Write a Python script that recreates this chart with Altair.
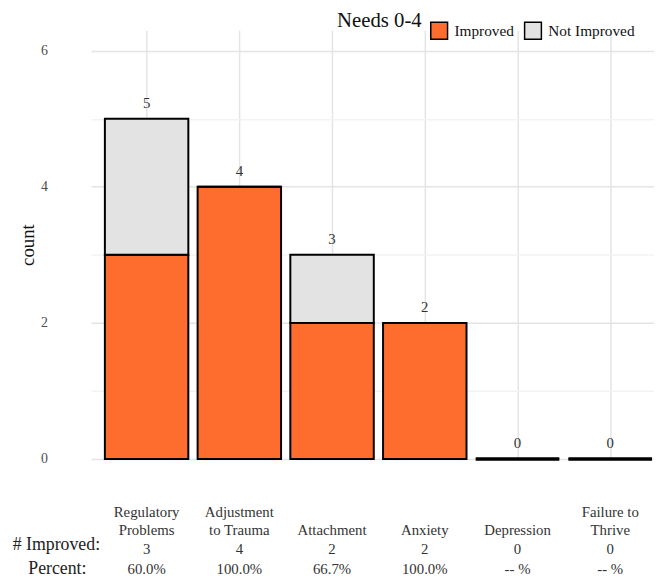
import altair as alt
import pandas as pd

# ---- data ----
categories = ["Regulatory Problems", "Adjustment to Trauma", "Attachment",
              "Anxiety", "Depression", "Failure to Thrive"]
label_top = ["Regulatory", "Adjustment", "", "", "", "Failure to"]
label_bottom = ["Problems", "to Trauma", "Attachment", "Anxiety", "Depression", "Thrive"]
improved = [3, 4, 2, 2, 0, 0]
not_improved = [2, 0, 1, 0, 0, 0]
percent_labels = ["60.0%", "100.0%", "66.7%", "100.0%", "-- %", "-- %"]
status = ["Improved", "Not Improved"]
colors = ["#FF6D2E", "#E3E3E3"]
y_ticks = [0, 1, 2, 3, 4, 5, 6]
x_ticks = [1, 2, 3, 4, 5, 6]
chart_title = "Needs 0-4"
row_titles = ["# Improved:", "Percent:"]

FONT = "Liberation Serif"

rows = []
for i, cat in enumerate(categories):
    tot = improved[i] + not_improved[i]
    rows.append({"cat": cat, "idx": i + 1, "status": status[0],
                 "y0": 0, "y1": improved[i], "total": tot})
    rows.append({"cat": cat, "idx": i + 1, "status": status[1],
                 "y0": improved[i], "y1": improved[i] + not_improved[i], "total": tot})
bars_df = pd.DataFrame(rows)

lab_df = pd.DataFrame({
    "cat": categories,
    "idx": list(range(1, len(categories) + 1)),
    "top": label_top,
    "bottom": label_bottom,
    "total": [a + b for a, b in zip(improved, not_improved)],
    "imp": [str(v) for v in improved],
    "pct": percent_labels,
})

xscale = alt.Scale(domain=[0.4, 6.472], nice=False, zero=False)
yscale = alt.Scale(domain=[0, 6.3], nice=False)

xaxis = alt.Axis(values=x_ticks, grid=True, labels=False, ticks=False,
                 domain=False, title=None, gridColor="#e4e4e4", gridWidth=1.5)
yaxis = alt.Axis(values=y_ticks, title="count", grid=True, ticks=False, domain=False,
                 labelExpr="datum.value % 2 == 0 ? datum.label : ''",
                 gridColor={"condition": {"test": "datum.value % 2 == 1", "value": "#f3f3f3"},
                            "value": "#e4e4e4"},
                 gridWidth=1.5,
                 labelPadding=44, labelFontSize=14, labelColor="#4d4d4d",
                 labelFont=FONT, titleFont=FONT, titleFontSize=19,
                 titleFontWeight="normal", titleColor="#111", titlePadding=3)

bars = alt.Chart(bars_df).transform_calculate(
    lo="datum.idx - 0.45", hi="datum.idx + 0.45"
).mark_bar(stroke="black").encode(
    x=alt.X("lo:Q", scale=xscale, axis=xaxis),
    x2="hi:Q",
    y=alt.Y("y1:Q", scale=yscale, axis=yaxis),
    y2="y0:Q",
    fill=alt.Fill("status:N", scale=alt.Scale(domain=status, range=colors),
                  legend=alt.Legend(title=None, orient="none", legendX=343, legendY=-9,
                                    direction="horizontal", symbolType="square",
                                    symbolSize=289, symbolStrokeColor="black",
                                    symbolStrokeWidth=1.5, labelFont=FONT,
                                    labelFontSize=15.5, labelColor="#111",
                                    labelOffset=6, columnPadding=7, padding=0)),
    strokeWidth=alt.condition("datum.total == 0", alt.value(3), alt.value(2)),
)

values = alt.Chart(lab_df).mark_text(dy=-16, fontSize=15, font=FONT, color="#333",
                                      baseline="middle").encode(
    x=alt.X("idx:Q", scale=xscale, axis=xaxis),
    y=alt.Y("total:Q", scale=yscale, axis=yaxis),
    text="total:Q",
)


def row(field, ypix):
    return alt.Chart(lab_df).mark_text(baseline="middle", fontSize=15, font=FONT,
                                       color="#333").encode(
        x=alt.X("idx:Q", scale=xscale, axis=xaxis),
        y=alt.value(ypix),
        text=f"{field}:N",
    )


cat_top = row("top", 488)
cat_bottom = row("bottom", 506)
imp_row = row("imp", 525)
pct_row = row("pct", 545)

row1 = alt.Chart(pd.DataFrame({"t": [row_titles[0]]})).mark_text(
    baseline="middle", align="center", fontSize=18, font=FONT, color="#222").encode(
    x=alt.value(-35), y=alt.value(521), text="t:N")
row2 = alt.Chart(pd.DataFrame({"t": [row_titles[1]]})).mark_text(
    baseline="middle", align="center", fontSize=18, font=FONT, color="#222").encode(
    x=alt.value(-34), y=alt.value(545), text="t:N")
title_mark = alt.Chart(pd.DataFrame({"t": [chart_title]})).mark_text(
    baseline="middle", align="center", fontSize=21, font=FONT, color="#111").encode(
    x=alt.value(292), y=alt.value(-9), text="t:N")

chart = alt.layer(bars, values, cat_top, cat_bottom, imp_row, pct_row,
                  row1, row2, title_mark).properties(
    width=570, height=434,
    autosize=alt.AutoSizeParams(type="none"),
    padding={"left": 84, "top": 19, "right": 0, "bottom": 119},
    background="white",
).configure_view(stroke=None)

chart.save("out.html", embed_options={"renderer": "svg", "actions": False})
